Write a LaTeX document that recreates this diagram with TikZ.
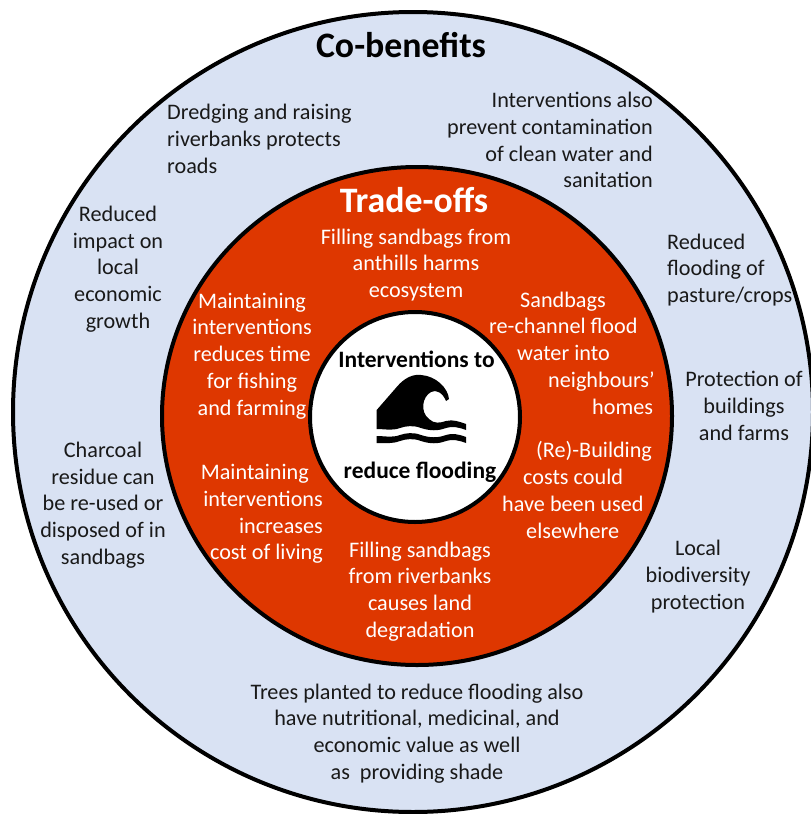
\documentclass[tikz,border=0pt]{standalone}
\usepackage{fontspec}
\setmainfont{Carlito}
\usepackage{xcolor}
\usepackage{tikz}
\definecolor{paleblue}{HTML}{D9E2F3}
\definecolor{tradered}{HTML}{DE3700}
\tikzset{
  ring/.style = {draw=black, line width=4pt},
  benefit/.style = {inner sep=0pt, text=black!90, font=\fontsize{22.2}{26.8}\selectfont},
  tradeoff/.style = {inner sep=0pt, text=white, font=\fontsize{22.2}{26.8}\selectfont},
  heading/.style = {inner sep=0pt, font=\fontsize{35.8}{40}\selectfont\bfseries},
  centretext/.style = {inner sep=0pt, font=\fontsize{23.5}{27}\selectfont\bfseries},
}

\begin{document}
\begin{tikzpicture}[x=1pt, y=-1pt]
\useasboundingbox (0,0) rectangle (811,814);
\fill[white] (0,0) rectangle (811,814);
\draw[ring, fill=paleblue] (413,412) ellipse [x radius=400, y radius=400];
\draw[ring, fill=tradered] (417,416) ellipse [x radius=255, y radius=249];
\draw[ring, fill=white] (415,417) ellipse [x radius=105, y radius=105];

\fill[black] (376.7,410) -- (396.7,387) .. controls (405,377) and (414,374) .. (421,375)
  .. controls (436,376) and (448,388) .. (449,399) -- (446,401)
  .. controls (443,393) and (436,389) .. (431,392)
  .. controls (422,397) and (420,412) .. (429,419)
  .. controls (434,424) and (440,423) .. (446,421)
  .. controls (453,419) and (460,422) .. (466,424) -- (466,430)
  .. controls (458,427) and (452,426) .. (446,428)
  .. controls (438,431) and (430,431) .. (421,428)
  .. controls (413,425) and (406,426) .. (400,428)
  .. controls (392,431) and (385,429) .. (376.7,429) -- cycle;
\fill[black] (376.7,436) .. controls (385,436) and (392,438) .. (400,435)
  .. controls (406,433) and (413,432) .. (421,435)
  .. controls (430,438) and (438,438) .. (446,435)
  .. controls (452,433) and (458,434) .. (466,437) -- (466,443)
  .. controls (458,440) and (452,439) .. (446,441)
  .. controls (438,444) and (430,444) .. (421,441)
  .. controls (413,438) and (406,439) .. (400,441)
  .. controls (392,444) and (385,443) .. (376.7,443) -- cycle;

\node (cobenefits) [heading, text=black] at (401,45) {Co-benefits};
\node (tradeoffs) [heading, text=white] at (414,200) {Trade-offs};
\node (interventions) [centretext] at (416.5,359) {Interventions to};
\node (reduce) [centretext] at (420,472) {reduce flooding};

\node (dredging) [benefit, align=left, anchor=west] at (167,139) {Dredging and raising \\ riverbanks protects \\ roads};
\node (contamination) [benefit, align=right, anchor=east] at (653,140) {Interventions also \\ prevent contamination \\ of clean water and \\ sanitation};
\node (growth) [benefit, align=center] at (118,269) {Reduced \\ impact on \\ local \\ economic \\ growth};
\node (pasture) [benefit, align=left, anchor=west] at (667,270) {Reduced \\ flooding of \\ pasture/crops};
\node (buildings) [benefit, align=center] at (744,406) {Protection of \\ buildings \\ and farms};
\node (biodiversity) [benefit, align=center] at (698,576.5) {Local \\ biodiversity \\ protection};
\node (charcoal) [benefit, align=center] at (103,505) {Charcoal \\ residue can \\ be re-used or \\ disposed of in \\ sandbags};
\node (trees) [benefit, align=center] at (417,733.5) {Trees planted to reduce flooding also \\ have nutritional, medicinal, and \\ economic value as well \\ as\ \ providing shade};

\node (anthills) [tradeoff, align=center] at (416,265) {Filling sandbags from \\ anthills harms \\ ecosystem};
\node (rechannel) [tradeoff, align=left, anchor=west] at (489,353) {\hspace*{31pt}Sandbags \\ re-channel flood \\ \hspace*{28pt}water into \\ \hspace*{59pt}neighbours’ \\ \hspace*{103pt}homes};
\node (rebuilding) [tradeoff, align=left, anchor=west] at (502,490) {\hspace*{34pt}(Re)-Building \\ \hspace*{21pt}costs could \\ have been used \\ \hspace*{24pt}elsewhere};
\node (riverbanks) [tradeoff, align=center] at (420,591.5) {Filling sandbags \\ from riverbanks \\ causes land \\ degradation};
\node (cost) [tradeoff, align=right, anchor=east] at (323,514) {Maintaining\hspace*{14pt} \\ interventions \\ increases \\ cost of living};
\node (fishing) [tradeoff, align=center] at (252,356) {Maintaining \\ interventions \\ reduces time \\ for fishing \\ and farming};
\end{tikzpicture}
\end{document}
